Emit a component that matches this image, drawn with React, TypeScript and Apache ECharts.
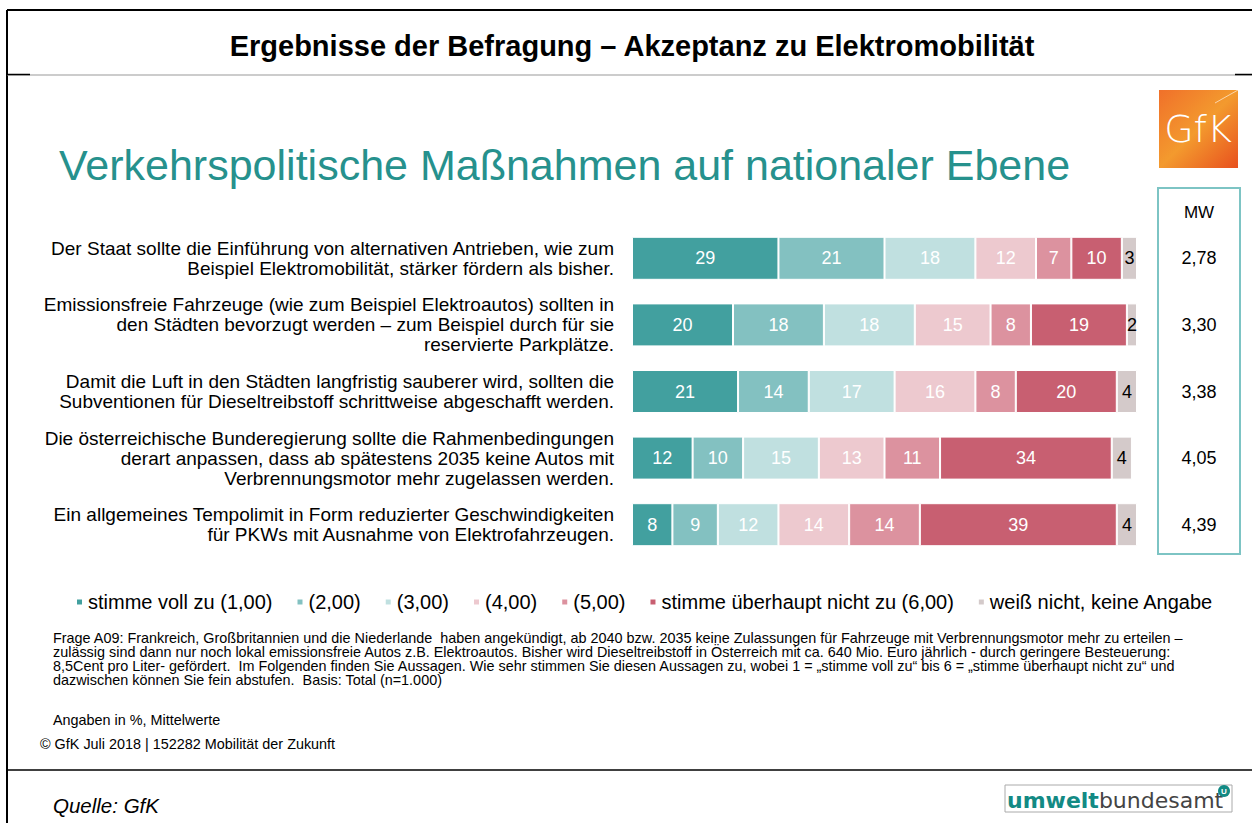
import React, { useEffect, useRef } from "react";
import * as echarts from "echarts";

const categories = [
  "Der Staat sollte die Einführung von alternativen Antrieben, wie zum\nBeispiel Elektromobilität, stärker fördern als bisher.",
  "Emissionsfreie Fahrzeuge (wie zum Beispiel Elektroautos) sollten in\nden Städten bevorzugt werden – zum Beispiel durch für sie\nreservierte Parkplätze.",
  "Damit die Luft in den Städten langfristig sauberer wird, sollten die\nSubventionen für Dieseltreibstoff schrittweise abgeschafft werden.",
  "Die österreichische Bunderegierung sollte die Rahmenbedingungen\nderart anpassen, dass ab spätestens 2035 keine Autos mit\nVerbrennungsmotor mehr zugelassen werden.",
  "Ein allgemeines Tempolimit in Form reduzierter Geschwindigkeiten\nfür PKWs mit Ausnahme von Elektrofahrzeugen.",
];

const seriesNames = [
  "stimme voll zu (1,00)",
  "(2,00)",
  "(3,00)",
  "(4,00)",
  "(5,00)",
  "stimme überhaupt nicht zu (6,00)",
  "weiß nicht, keine Angabe",
];

const voll = [29, 20, 21, 12, 8];
const zwei = [21, 18, 14, 10, 9];
const drei = [18, 18, 17, 15, 12];
const vier = [12, 15, 16, 13, 14];
const fuenf = [7, 8, 8, 11, 14];
const garNicht = [10, 19, 20, 34, 39];
const weissNicht = [3, 2, 4, 4, 4];

const mittelwerte = [2.78, 3.3, 3.38, 4.05, 4.39];

const colors = ["#42A09F", "#83C1C1", "#C0E0E0", "#EDC9CF", "#DC929F", "#C85F71", "#D4CACA"];

const footnoteLines = [
  "Frage A09: Frankreich, Großbritannien und die Niederlande  haben angekündigt, ab 2040 bzw. 2035 keine Zulassungen für Fahrzeuge mit Verbrennungsmotor mehr zu erteilen –",
  "zulässig sind dann nur noch lokal emissionsfreie Autos z.B. Elektroautos. Bisher wird Dieseltreibstoff in Österreich mit ca. 640 Mio. Euro jährlich - durch geringere Besteuerung:",
  "8,5Cent pro Liter- gefördert.  Im Folgenden finden Sie Aussagen. Wie sehr stimmen Sie diesen Aussagen zu, wobei 1 = „stimme voll zu“ bis 6 = „stimme überhaupt nicht zu“ und",
  "dazwischen können Sie fein abstufen.  Basis: Total (n=1.000)",
];

const FONT = "'Liberation Sans', Arial, Helvetica, sans-serif";

export default function App() {
  const ref = useRef<HTMLDivElement>(null);

  useEffect(() => {
    if (!ref.current) return;
    const chart = echarts.init(ref.current, undefined, { renderer: "svg" });
    const values = [voll, zwei, drei, vier, fuenf, garNicht, weissNicht];

    const series = values.map((arr, i) => ({
      name: seriesNames[i],
      type: "bar",
      stack: "total",
      barWidth: 43,
      data: arr,
      itemStyle: { color: colors[i], borderColor: "#ffffff", borderWidth: 1 },
      label: {
        show: true,
        position: "inside",
        color: i === 6 ? "#000000" : "#ffffff",
        fontSize: 18,
        fontFamily: FONT,
      },
    }));

    chart.setOption({
      animation: false,
      backgroundColor: "#ffffff",
      textStyle: { fontFamily: FONT },
      grid: { left: 632, right: 115, top: 225, height: 333 },
      xAxis: { type: "value", min: 0, max: 100, show: false },
      yAxis: [
        {
          type: "category",
          data: categories,
          inverse: true,
          axisLine: { show: false },
          axisTick: { show: false },
          axisLabel: {
            margin: 18,
            fontSize: 19,
            lineHeight: 20,
            color: "#000000",
            align: "right",
            fontFamily: FONT,
          },
        },
        {
          type: "category",
          data: categories,
          inverse: true,
          position: "right",
          axisLine: { show: false },
          axisTick: { show: false },
          axisLabel: {
            margin: 62,
            align: "center",
            fontSize: 18,
            color: "#000000",
            fontFamily: FONT,
            formatter: (_v: string, idx: number) => mittelwerte[idx].toFixed(2).replace(".", ","),
          },
        },
      ],
      legend: {
        data: seriesNames,
        left: 70,
        top: 587,
        icon: "rect",
        itemWidth: 7,
        itemHeight: 7,
        itemGap: 23,
        textStyle: { fontSize: 20, color: "#000000", fontFamily: FONT },
      },
      series,
      graphic: [
        // frame lines
        { type: "line", shape: { x1: 7, y1: 10, x2: 1252, y2: 10 }, style: { stroke: "#000", lineWidth: 2 } },
        { type: "line", shape: { x1: 7, y1: 10, x2: 7, y2: 823 }, style: { stroke: "#000", lineWidth: 2 } },
        { type: "line", shape: { x1: 7, y1: 75, x2: 1252, y2: 75 }, style: { stroke: "#999", lineWidth: 1 } },
        { type: "line", shape: { x1: 7, y1: 74.5, x2: 30, y2: 74.5 }, style: { stroke: "#000", lineWidth: 1.5 } },
        { type: "line", shape: { x1: 1235, y1: 74.5, x2: 1252, y2: 74.5 }, style: { stroke: "#000", lineWidth: 1.5 } },
        { type: "line", shape: { x1: 7, y1: 770, x2: 1252, y2: 770 }, style: { stroke: "#000", lineWidth: 1.5 } },
        // title
        {
          type: "text",
          x: 632,
          y: 46,
          style: {
            text: "Ergebnisse der Befragung – Akzeptanz zu Elektromobilität",
            font: `bold 29px ${FONT}`,
            fill: "#000",
            textAlign: "center",
            textVerticalAlign: "middle",
          },
        },
        // subtitle
        {
          type: "text",
          x: 59,
          y: 165,
          style: {
            text: "Verkehrspolitische Maßnahmen auf nationaler Ebene",
            font: `43px ${FONT}`,
            fill: "#26918D",
            textVerticalAlign: "middle",
          },
        },
        // GfK logo
        {
          type: "rect",
          shape: { x: 1159, y: 90, width: 79, height: 78 },
          style: {
            fill: new echarts.graphic.LinearGradient(0, 0, 1, 1, [
              { offset: 0, color: "#F0702A" },
              { offset: 0.5, color: "#F39A2E" },
              { offset: 1, color: "#E8501E" },
            ]),
          },
        },
        {
          type: "line",
          shape: { x1: 1215, y1: 103, x2: 1238, y2: 90 },
          style: { stroke: "rgba(255,255,255,0.6)", lineWidth: 1 },
        },
        {
          type: "text",
          x: 1198,
          y: 129,
          style: {
            text: "GfK",
            font: `200 38px 'DejaVu Sans', ${FONT}`,
            fill: "#ffffff",
            textAlign: "center",
            textVerticalAlign: "middle",
          },
        },
        // MW box
        {
          type: "rect",
          shape: { x: 1158, y: 188, width: 82, height: 366 },
          style: { fill: "none", stroke: "#7DC4C4", lineWidth: 2 },
        },
        {
          type: "text",
          x: 1199,
          y: 212,
          style: { text: "MW", font: `17px ${FONT}`, fill: "#000", textAlign: "center", textVerticalAlign: "middle" },
        },
        // footnote
        ...footnoteLines.map((t, i) => ({
          type: "text",
          x: 53,
          y: 638 + i * 14,
          style: { text: t, font: `14.4px ${FONT}`, fill: "#000", textVerticalAlign: "middle" },
        })),
        {
          type: "text",
          x: 53,
          y: 720,
          style: { text: "Angaben in %, Mittelwerte", font: `14.4px ${FONT}`, fill: "#000", textVerticalAlign: "middle" },
        },
        {
          type: "text",
          x: 40,
          y: 744,
          style: {
            text: "© GfK Juli 2018 | 152282 Mobilität der Zukunft",
            font: `14.4px ${FONT}`,
            fill: "#000",
            textVerticalAlign: "middle",
          },
        },
        {
          type: "text",
          x: 53,
          y: 805,
          style: { text: "Quelle: GfK", font: `italic 20.5px ${FONT}`, fill: "#000", textVerticalAlign: "middle" },
        },
        // umweltbundesamt logo
        {
          type: "rect",
          shape: { x: 1005, y: 785, width: 227, height: 27 },
          style: { fill: "none", stroke: "#AAAAAA", lineWidth: 1 },
        },
        {
          type: "text",
          x: 1007,
          y: 800,
          style: {
            text: "{a|umwelt}{b|bundesamt}",
            textVerticalAlign: "middle",
            rich: {
              a: { font: `bold 22px 'DejaVu Sans', ${FONT}`, fill: "#138A84" },
              b: { font: `22px 'DejaVu Sans', ${FONT}`, fill: "#444444" },
            },
          },
        },
        {
          type: "circle",
          shape: { cx: 1224, cy: 791, r: 6 },
          style: { fill: "#138A84" },
        },
        {
          type: "text",
          x: 1224,
          y: 791,
          style: { text: "U", font: `bold 8px ${FONT}`, fill: "#fff", textAlign: "center", textVerticalAlign: "middle" },
        },
      ],
    });

    return () => chart.dispose();
  }, []);

  return (
    <div
      ref={ref}
      style={{ position: "absolute", left: 0, top: 0, width: 1252, height: 823, background: "#fff" }}
    />
  );
}
